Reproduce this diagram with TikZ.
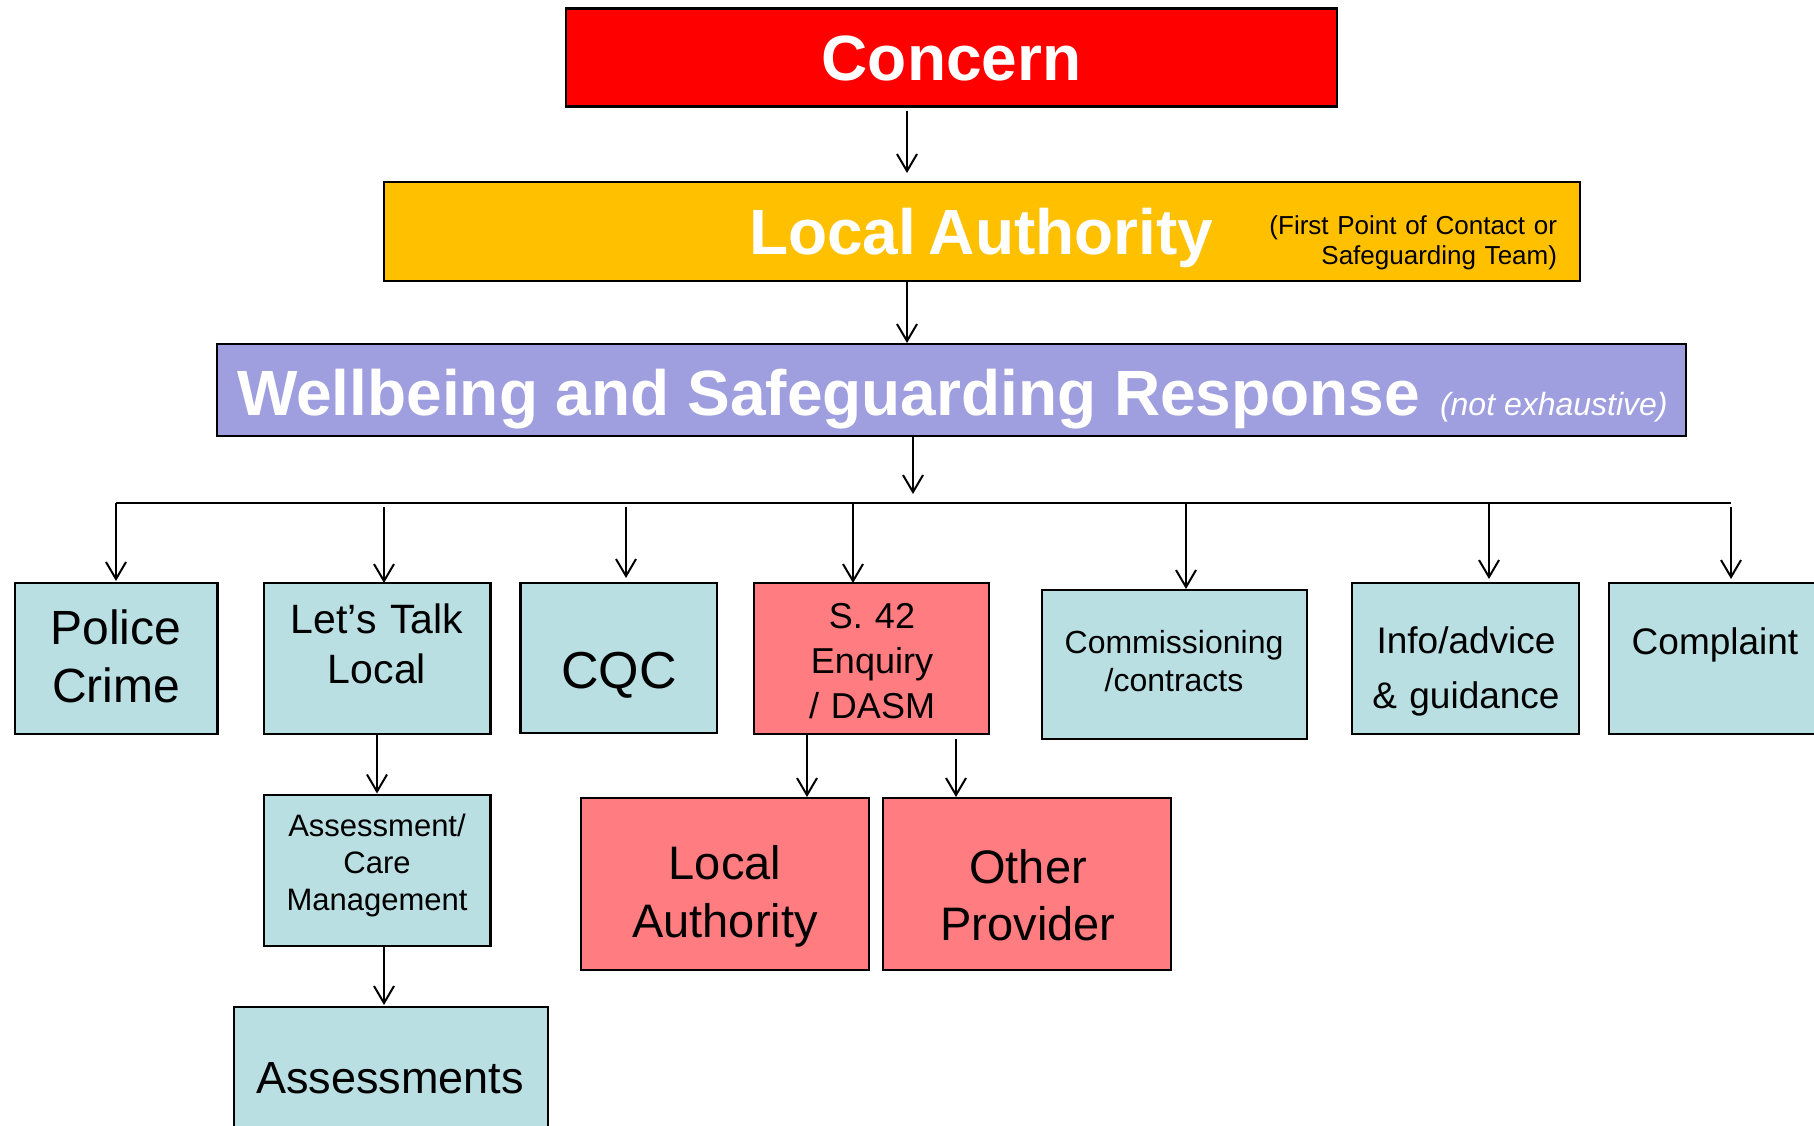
\documentclass[tikz,border=0pt]{standalone}
\usepackage{fontspec}
\setmainfont{Liberation Sans}
\usetikzlibrary{arrows.meta}
\definecolor{cred}{HTML}{FF0000}
\definecolor{cgold}{HTML}{FFC000}
\definecolor{clav}{HTML}{9F9FDF}
\definecolor{cblue}{HTML}{B9DFE3}
\definecolor{cpink}{HTML}{FF7C80}
\begin{document}
\begin{tikzpicture}[x=1pt,y=-1pt,
  box/.style={draw=black,line width=2.6pt,inner sep=0pt,outer sep=0pt},
  bluebox/.style={box,fill=cblue},
  pinkbox/.style={box,fill=cpink},
  txt/.style={inner sep=0pt,outer sep=0pt,anchor=base,text width=500pt,align=center},
  arr/.style={line width=2pt,-{Straight Barb[length=17pt,width=20pt]}},
]
\useasboundingbox (0,0) rectangle (1814,1125);
\clip (0,0) rectangle (1814,1125);

% x positions for connectors
\coordinate (x907) at (907,0);
\coordinate (x913) at (913,0);
\coordinate (x116) at (116,0);
\coordinate (x384) at (384,0);
\coordinate (x626) at (626,0);
\coordinate (x853) at (853,0);
\coordinate (x1186) at (1186,0);
\coordinate (x1489) at (1489,0);
\coordinate (x1731) at (1731,0);
\coordinate (x377) at (377,0);
\coordinate (x807) at (807,0);
\coordinate (x956) at (956,0);

% top boxes
\node[box,fill=cred,minimum width=771pt,minimum height=98pt] (concern) at (951.5,57.5) {};
\node[txt,font=\fontsize{64}{70}\selectfont\bfseries,text=white] (concern-t) at (951.5,80) {Concern};

\node[box,fill=cgold,minimum width=1196pt,minimum height=99pt] (la) at (982,231.5) {};
\node[inner sep=0pt,outer sep=0pt,anchor=base west,font=\fontsize{64}{70}\selectfont\bfseries,text=white] (la-t) at (749,254) {Local\kern-5pt\ Authority};
\node[inner sep=0pt,outer sep=0pt,anchor=base east,text width=400pt,align=right,font=\fontsize{26}{30}\selectfont] (la-note) at (1557,234) {(First Point of Contact or\\Safeguarding Team)};

\node[box,fill=clav,minimum width=1469pt,minimum height=92pt] (wb) at (951.5,390) {};
\node[inner sep=0pt,outer sep=0pt,anchor=base west,font=\fontsize{64}{70}\selectfont\bfseries,text=white] (wb-t) at (237,415) {Wellbeing and Safeguarding Response};
\node[inner sep=0pt,outer sep=0pt,anchor=base west,font=\fontsize{32}{36}\selectfont\itshape,text=white] (wb-note) at (1440,415) {(not exhaustive)};

% bus
\coordinate (busl) at (116,503);
\coordinate (busr) at (1731,503);
\coordinate (busw) at (913,494);
\draw[line width=2.6pt] (busl) -- (busr);

% children row
\node[bluebox,minimum width=202.5pt,minimum height=151pt] (police) at (116.25,658.5) {};
\node[txt,font=\fontsize{48}{58.5}\selectfont] (police-t) at (116,644) {Police\\Crime};

\node[bluebox,minimum width=226.5pt,minimum height=151pt] (lt) at (377.25,658.5) {};
\node[txt,font=\fontsize{41}{50}\selectfont] (lt-t) at (377,633) {Let’s Talk\\Local};

\node[bluebox,minimum width=196.4pt,minimum height=150pt] (cqc) at (618.8,658) {};
\node[txt,font=\fontsize{52}{60}\selectfont] (cqc-t) at (619,688) {CQC};

\node[pinkbox,minimum width=235pt,minimum height=151pt] (s42) at (871.5,658.5) {};
\node[txt,font=\fontsize{36}{45}\selectfont] (s42-t) at (872,628) {S. 42\\Enquiry\\/ DASM};

\node[bluebox,minimum width=265pt,minimum height=149pt] (comm) at (1174.5,664.5) {};
\node[txt,font=\fontsize{32}{38}\selectfont] (comm-t) at (1174,653) {Commissioning\\/contracts};

\node[bluebox,minimum width=227pt,minimum height=151pt] (info) at (1465.5,658.5) {};
\node[txt,font=\fontsize{37}{55}\selectfont] (info-t) at (1466,653) {Info/advice\\\& guidance};

\node[bluebox,minimum width=221pt,minimum height=151pt] (compl) at (1719.5,658.5) {};
\node[txt,font=\fontsize{37}{45}\selectfont] (compl-t) at (1715,654) {Complaint};

% lower rows
\node[bluebox,minimum width=226.5pt,minimum height=151pt] (acm) at (377.25,870.5) {};
\node[txt,font=\fontsize{31}{37}\selectfont] (acm-t) at (377,836) {Assessment/\\Care\\Management};

\node[pinkbox,minimum width=288pt,minimum height=172pt] (la2) at (725,884) {};
\node[txt,font=\fontsize{47}{58}\selectfont] (la2-t) at (725,879) {Local\\Authority};

\node[pinkbox,minimum width=288pt,minimum height=172pt] (op) at (1027,884) {};
\node[txt,font=\fontsize{47}{57}\selectfont] (op-t) at (1028,883) {Other\\Provider};

\node[bluebox,minimum width=314pt,minimum height=133pt] (assess) at (391,1073.5) {};
\node[txt,font=\fontsize{45}{50}\selectfont] (assess-t) at (390,1093) {Assessments};

% connectors
\draw[arr,shorten <=4pt,shorten >=9pt] (concern.south -| x907) -- (la.north -| x907);
\draw[arr,shorten >=1pt] (la.south -| x907) -- (wb.north -| x907);
\draw[arr] (wb.south -| x913) -- (busw);

\draw[arr,shorten >=2pt] (busl -| x116) -- (police.north -| x116);
\draw[arr,shorten <=4pt] (busl -| x384) -- (lt.north -| x384);
\draw[arr,shorten <=4pt,shorten >=5pt] (busl -| x626) -- (cqc.north -| x626);
\draw[arr] (busl -| x853) -- (s42.north -| x853);
\draw[arr,shorten >=1pt] (busl -| x1186) -- (comm.north -| x1186);
\draw[arr,shorten >=4pt] (busl -| x1489) -- (info.north -| x1489);
\draw[arr,shorten <=4pt,shorten >=4pt] (busr) -- (compl.north -| x1731);

\draw[arr,shorten >=1.5pt] (lt.south -| x377) -- (acm.north -| x377);
\draw[arr,shorten >=2pt] (acm.south -| x384) -- (assess.north -| x384);
\draw[arr,shorten >=1pt] (s42.south -| x807) -- (la2.north -| x807);
\draw[arr,shorten <=5pt,shorten >=1pt] (s42.south -| x956) -- (op.north -| x956);
\end{tikzpicture}
\end{document}
